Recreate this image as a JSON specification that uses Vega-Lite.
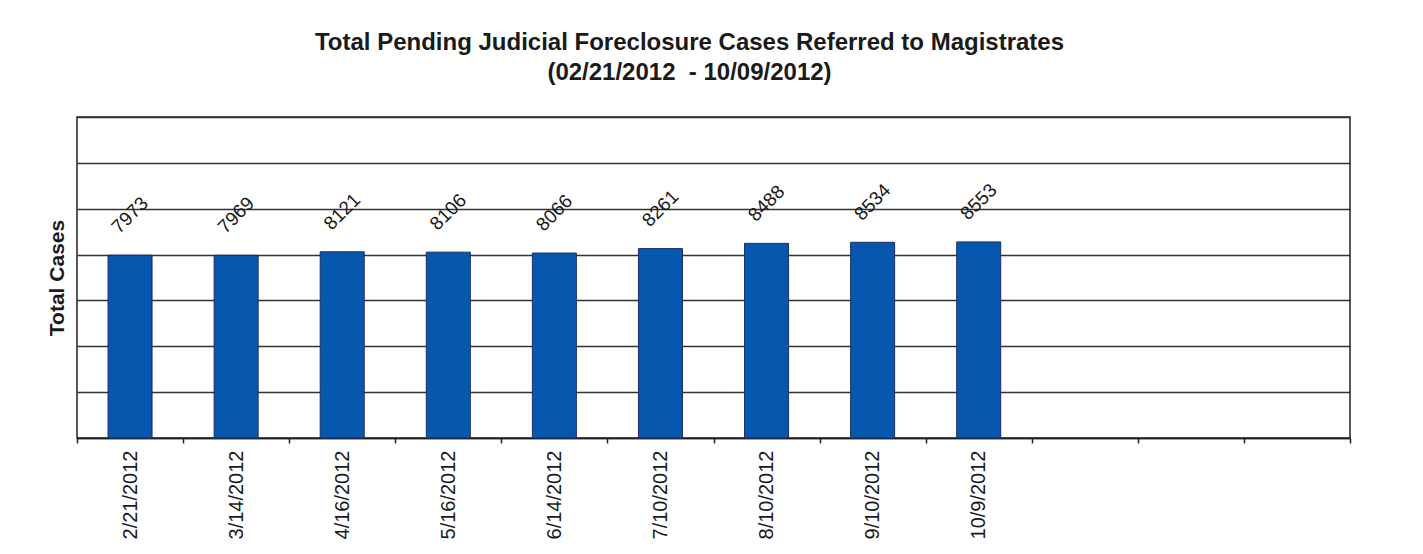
{
  "$schema": "https://vega.github.io/schema/vega-lite/v6.json",
  "autosize": "none",
  "width": 1273,
  "height": 321,
  "padding": {"left": 77, "top": 117, "right": 73, "bottom": 116},
  "background": "white",
  "title": {
    "text": ["Total Pending Judicial Foreclosure Cases Referred to Magistrates", "(02/21/2012 \u00a0- 10/09/2012)"],
    "font": "Liberation Sans",
    "fontSize": 24,
    "fontWeight": "bold",
    "color": "#1a1a1a",
    "lineHeight": 30,
    "anchor": "middle",
    "frame": "group",
    "dx": -24,
    "offset": 32
  },
  "data": {
    "values": [
      {"date": "2/21/2012", "cases": 7973},
      {"date": "3/14/2012", "cases": 7969},
      {"date": "4/16/2012", "cases": 8121},
      {"date": "5/16/2012", "cases": 8106},
      {"date": "6/14/2012", "cases": 8066},
      {"date": "7/10/2012", "cases": 8261},
      {"date": "8/10/2012", "cases": 8488},
      {"date": "9/10/2012", "cases": 8534},
      {"date": "10/9/2012", "cases": 8553}
    ]
  },
  "encoding": {
    "x": {
      "field": "date",
      "type": "nominal",
      "sort": null,
      "scale": {
        "domain": ["2/21/2012", "3/14/2012", "4/16/2012", "5/16/2012", "6/14/2012", "7/10/2012", "8/10/2012", "9/10/2012", "10/9/2012", " ", "  ", "   "],
        "paddingInner": 0,
        "paddingOuter": 0
      },
      "axis": {
        "title": null,
        "labelAngle": -90,
        "labelAlign": "right",
        "labelBaseline": "middle",
        "labelFont": "Liberation Sans",
        "labelFontSize": 20,
        "labelColor": "#1a1a1a",
        "labelPadding": 7,
        "tickBand": "extent",
        "tickSize": 5,
        "tickColor": "#222",
        "tickWidth": 1.5,
        "domainColor": "#222",
        "domainWidth": 1.5,
        "grid": false
      }
    },
    "y": {
      "field": "cases",
      "type": "quantitative",
      "scale": {"domain": [0, 14000], "nice": false},
      "axis": {
        "title": "Total Cases",
        "titleFont": "Liberation Sans",
        "titleFontSize": 21,
        "titleFontWeight": "bold",
        "titleColor": "#1a1a1a",
        "titlePadding": 10,
        "labels": false,
        "ticks": false,
        "domain": false,
        "values": [0, 2000, 4000, 6000, 8000, 10000, 12000, 14000],
        "grid": true,
        "gridColor": "#333",
        "gridWidth": 1.5,
        "gridOpacity": 1
      }
    }
  },
  "layer": [
    {
      "mark": {"type": "bar", "width": {"band": 0.415}, "color": "#0757AE", "stroke": "#1b2f66", "strokeWidth": 1}
    },
    {
      "mark": {
        "type": "text",
        "angle": -45,
        "align": "center",
        "baseline": "middle",
        "yOffset": -40,
        "font": "Liberation Sans",
        "fontSize": 19,
        "color": "#1a1a1a"
      },
      "encoding": {"text": {"field": "cases", "type": "quantitative", "format": "d"}}
    }
  ],
  "config": {
    "view": {"stroke": "#222", "strokeWidth": 1.5}
  }
}
